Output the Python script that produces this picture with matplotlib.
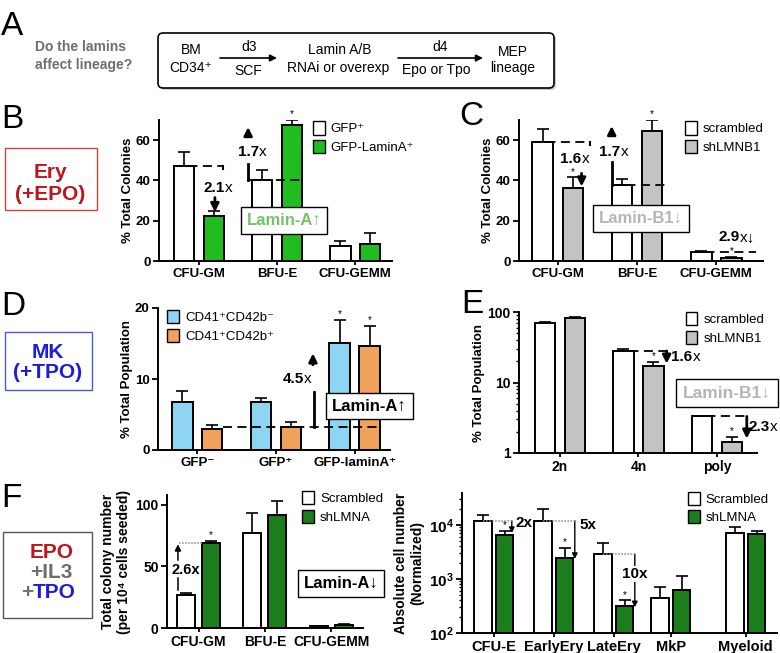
##############################################################################
# 1. modules
##############################################################################
import matplotlib.pyplot as plt
import numpy as np
from matplotlib.patches import FancyBboxPatch, Patch, Rectangle
from matplotlib.ticker import NullFormatter


##############################################################################
# 2. settings / data
##############################################################################
plt.rcParams["font.family"] = ["Liberation Sans", "DejaVu Sans"]
plt.rcParams["mathtext.fontset"] = "custom"
plt.rcParams["mathtext.rm"] = "Liberation Sans"
plt.rcParams["mathtext.bf"] = "Liberation Sans:bold"

W, H = 780, 653

COLONY_CATS = ["CFU-GM", "BFU-E", "CFU-GEMM"]

# B: lamin-A overexpression, EPO
B_GFP = [47, 40, 7.5]
B_GFP_SD = [7, 5, 2.5]
B_LAMINA = [22.5, 67.5, 8.5]
B_LAMINA_SD = [2.5, 2.5, 5.5]

# C: lamin-B1 knockdown, EPO
C_SCR = [59, 37.5, 4.5]
C_SCR_SD = [6.5, 3, 0.4]
C_SHB1 = [36, 64.5, 1.5]
C_SHB1_SD = [5.5, 5.5, 0.5]

# D: MK, TPO
D_CATS = ["GFP\u207b", "GFP\u207a", "GFP-laminA\u207a"]
D_CD42NEG = [6.8, 6.8, 15.1]
D_CD42NEG_SD = [1.5, 0.5, 3.2]
D_CD42POS = [3.0, 3.3, 14.7]
D_CD42POS_SD = [0.5, 0.6, 2.8]

# E: ploidy
E_CATS = ["2n", "4n", "poly"]
E_SCR = [69, 28, 3.3]
E_SCR_SD = [3, 2, 0.05]
E_SHB1 = [82, 17, 1.43]
E_SHB1_SD = [3, 2.5, 0.25]

# F left: colonies
F_COL_SCR = [27, 77, 1.5]
F_COL_SCR_SD = [1.5, 16, 0.3]
F_COL_SHA = [69, 92, 2.8]
F_COL_SHA_SD = [1.5, 11.5, 0.3]

# F right: cell numbers
F_CELL_CATS = ["CFU-E", "EarlyEry", "LateEry", "MkP", "Myeloid"]
F_CELL_SCR = [12000, 12000, 2900, 450, 7000]
F_CELL_SCR_SD = [3000, 8000, 1700, 260, 2000]
F_CELL_SHA = [6500, 2400, 320, 620, 6800]
F_CELL_SHA_SD = [1300, 1300, 80, 530, 1000]

GREEN_B = "#1fbd1f"
GREEN_F = "#1b7d1b"
GRAY = "#c3c3c3"
BLUE_D = "#8dd5f2"
ORANGE_D = "#f0a25c"
LAMA_GREEN = "#74c365"
LAMB_GRAY = "#b5b5b5"
ERY_RED = "#c0141c"
MK_BLUE = "#1c1ce0"
TXT_GRAY = "#6e6e6e"


##############################################################################
# 3. helpers
##############################################################################
def rect(x0, y0, x1, y1):
    return [x0 / W, 1 - y1 / H, (x1 - x0) / W, (y1 - y0) / H]


def pair_bars(ax, pos, a, a_sd, b, b_sd, ca, cb, off=0.19, width=0.26):
    conts = []
    for x, v, sd, c in ((pos - off, a, a_sd, ca), (pos + off, b, b_sd, cb)):
        v = np.asarray(v, float)
        ax.errorbar(x, v, yerr=[np.zeros_like(v), sd], fmt="none", ecolor="black",
                    elinewidth=1.2, capsize=4.5, capthick=1.2, zorder=1)
        conts.append(ax.bar(x, v, width, color=c, edgecolor="black",
                            linewidth=1.4, zorder=2))
    return conts


def stars(ax, x, v, sd, idx):
    for i in idx:
        ax.annotate("*", (x[i], v[i] + sd[i]), xytext=(0, 0.5),
                    textcoords="offset points", ha="center", va="bottom",
                    fontsize=7)


def style(ax, xpos, xlabels, yticks, ylabels, size=9.5, ysize=9.5):
    ax.set_facecolor("none")
    ax.spines[["top", "right"]].set_visible(False)
    ax.spines[["left", "bottom"]].set_linewidth(1.4)
    ax.set_xticks(xpos, xlabels, fontsize=size, fontweight="bold")
    ax.set_yticks(yticks, ylabels, fontsize=ysize, fontweight="bold")
    ax.tick_params(width=1.3, length=4, pad=2)
    ax.tick_params(axis="x", length=3)


def legend(ax, conts, labels, x, y):
    handles = [Patch(facecolor=c.patches[0].get_facecolor(), edgecolor="black",
                     linewidth=1.0) for c in conts]
    ax.legend(handles, labels, loc="upper left", bbox_to_anchor=(x, y),
              frameon=False, fontsize=9.5, handlelength=0.9, handleheight=1.15,
              handletextpad=0.45, labelspacing=0.35, borderaxespad=0,
              borderpad=0)


def arrow(ax, x, y0, y1, lw=2.0, ms=12):
    ax.annotate("", xy=(x, y1), xytext=(x, y0),
                arrowprops=dict(arrowstyle="-|>", color="black", lw=lw,
                                mutation_scale=ms, shrinkA=0, shrinkB=0),
                annotation_clip=False)


def hline(ax, x0, x1, y, ls=(0, (5, 3)), color="black", lw=1.3):
    ax.plot([x0, x1], [y, y], ls=ls, color=color, lw=lw, zorder=5,
            clip_on=False)


def vline(ax, x, y0, y1, lw=2.0):
    ax.plot([x, x], [y0, y1], color="black", lw=lw, zorder=5, clip_on=False)


def fold(ax, x, y, num, tail="x", size=11):
    ax.text(x, y, num, ha="right", va="center", fontsize=size,
            fontweight="bold", zorder=6)
    ax.text(x, y, tail, ha="left", va="center", fontsize=size, zorder=6)


def tag(ax, x, y, text, color, size=12, pad=0.35):
    ax.text(x, y, text, ha="center", va="center", fontsize=size,
            fontweight="bold", color=color, zorder=7,
            bbox=dict(boxstyle=f"square,pad={pad}", fc="white", ec="black",
                      lw=1.0))


##############################################################################
# 4. panels
##############################################################################
def panel_overlay(fig):
    ax = fig.add_axes([0, 0, 1, 1])
    ax.set_xlim(0, W)
    ax.set_ylim(H, 0)
    ax.axis("off")

    for x, y, s in ((1, 35, "A"), (1, 128, "B"), (459, 125, "C"),
                    (1, 315, "D"), (461, 313, "E"), (1, 507, "F")):
        ax.text(x, y, s, fontsize=24, va="baseline", ha="left")

    # A
    ax.text(35, 47, "Do the lamins", fontsize=10, fontweight="bold",
            color=TXT_GRAY, va="center")
    ax.text(35, 65, "affect lineage?", fontsize=10, fontweight="bold",
            color=TXT_GRAY, va="center")
    ax.add_patch(FancyBboxPatch((160, 35), 396, 55,
                                boxstyle="round,pad=0,rounding_size=5",
                                fc="#c8c8c8", ec="none", lw=0))
    ax.add_patch(FancyBboxPatch((158, 33), 396, 55,
                                boxstyle="round,pad=0,rounding_size=5",
                                fc="white", ec="black", lw=1.2))
    kw = dict(fontsize=10, ha="center", va="center")
    ax.text(191, 50, "BM", **kw)
    ax.text(191, 68, "CD34\u207a", **kw)
    ax.text(249, 47, "d3", **kw)
    ax.text(248, 71, "SCF", **kw)
    ax.text(340, 50, "Lamin A/B", **kw)
    ax.text(338, 68, "RNAi or overexp", **kw)
    ax.text(440, 47, "d4", **kw)
    ax.text(436, 70, "Epo or Tpo", **kw)
    ax.text(513, 52, "MEP", **kw)
    ax.text(513, 68, "lineage", **kw)
    for x0, x1 in ((220, 277), (398, 483)):
        ax.annotate("", xy=(x1, 58), xytext=(x0, 58),
                    arrowprops=dict(arrowstyle="-|>", color="black", lw=1.2,
                                    mutation_scale=10, shrinkA=0, shrinkB=0))

    # condition boxes
    ax.add_patch(Rectangle((5, 148), 92, 62, fill=False, ec="#c8453c", lw=1.0))
    ax.text(50, 172, "Ery", fontsize=15, fontweight="bold", color=ERY_RED,
            ha="center", va="center")
    ax.text(50, 194, "(+EPO)", fontsize=15, fontweight="bold", color=ERY_RED,
            ha="center", va="center")

    ax.add_patch(Rectangle((5, 332), 87, 58, fill=False, ec="#4a5ad8", lw=1.0))
    ax.text(48, 352, "MK", fontsize=15, fontweight="bold", color=MK_BLUE,
            ha="center", va="center")
    ax.text(48, 372, "(+TPO)", fontsize=15, fontweight="bold", color=MK_BLUE,
            ha="center", va="center")

    ax.add_patch(Rectangle((3, 532), 89, 86, fill=False, ec="#555555", lw=1.0))
    ax.text(52, 552, "EPO", fontsize=15, fontweight="bold", color=ERY_RED,
            ha="center", va="center")
    ax.text(51, 572, "+IL3", fontsize=15, fontweight="bold", color=TXT_GRAY,
            ha="center", va="center")
    ax.text(33, 592, "+", fontsize=15, fontweight="bold", color=TXT_GRAY,
            ha="right", va="center")
    ax.text(33, 592, "TPO", fontsize=15, fontweight="bold", color=MK_BLUE,
            ha="left", va="center")


def panel_b(fig):
    ax = fig.add_axes(rect(159, 120, 392, 261))
    pos = np.arange(len(COLONY_CATS))
    conts = pair_bars(ax, pos, B_GFP, B_GFP_SD, B_LAMINA, B_LAMINA_SD,
                      "white", GREEN_B)
    ax.set_xlim(-0.51, 2.47)
    ax.set_ylim(0, 70)
    style(ax, pos, COLONY_CATS, [0, 20, 40, 60], ["0", "20", "40", "60"])
    ax.set_ylabel("% Total Colonies", fontsize=9.5, fontweight="bold",
                  labelpad=1.5)
    stars(ax, pos + 0.19, B_LAMINA, B_LAMINA_SD, [0, 1])
    legend(ax, conts, ["GFP\u207a", "GFP-LaminA\u207a"], 0.66, 0.99)

    hline(ax, pos[0] - 0.32, pos[0] + 0.31, B_GFP[0])
    vline(ax, pos[0] + 0.31, B_GFP[0], B_GFP[0] - 1.5, lw=1.5)
    fold(ax, 0.33, 36.3, "2.1")
    arrow(ax, 0.205, 31.5, 24.3)
    fold(ax, 0.77, 54, "1.7")
    arrow(ax, 0.63, 62.5, 66.5)
    vline(ax, 0.63, 48, B_GFP[1])
    hline(ax, 0.62, 1.33, B_GFP[1])
    tag(ax, 1.09, 20, "Lamin-A\u2191", LAMA_GREEN)


def panel_c(fig):
    ax = fig.add_axes(rect(519, 120, 763, 261))
    pos = np.arange(len(COLONY_CATS))
    conts = pair_bars(ax, pos, C_SCR, C_SCR_SD, C_SHB1, C_SHB1_SD,
                      "white", GRAY)
    ax.set_xlim(-0.49, 2.59)
    ax.set_ylim(0, 70)
    style(ax, pos, COLONY_CATS, [0, 20, 40, 60], ["0", "20", "40", "60"])
    ax.set_ylabel("% Total Colonies", fontsize=9.5, fontweight="bold",
                  labelpad=1.5)
    stars(ax, pos + 0.19, C_SHB1, C_SHB1_SD, [0, 1, 2])
    legend(ax, conts, ["scrambled", "shLMNB1"], 0.68, 0.99)

    hline(ax, pos[0] - 0.32, pos[0] + 0.4, C_SCR[0])
    vline(ax, pos[0] + 0.4, C_SCR[0], C_SCR[0] - 1.2, lw=1.5)
    fold(ax, 0.30, 50.5, "1.6")
    arrow(ax, 0.30, 43.5, 37)
    fold(ax, 0.79, 54, "1.7")
    arrow(ax, 0.68, 62.5, 67)
    vline(ax, 0.68, 49, C_SCR[1])
    hline(ax, 0.68, 1.39, C_SCR[1])
    tag(ax, 1.05, 21, "Lamin-B1\u2193", LAMB_GRAY)
    hline(ax, pos[2] - 0.32, 2.5, C_SCR[2])
    fold(ax, 2.3, 12, "2.9", "x\u2193")


def panel_d(fig):
    ax = fig.add_axes(rect(158, 308, 390, 450))
    pos = np.arange(len(D_CATS))
    conts = pair_bars(ax, pos, D_CD42NEG, D_CD42NEG_SD, D_CD42POS,
                      D_CD42POS_SD, BLUE_D, ORANGE_D)
    ax.set_xlim(-0.5, 2.45)
    ax.set_ylim(0, 20)
    style(ax, pos, D_CATS, [0, 10, 20], ["0", "10", "20"])
    ax.set_ylabel("% Total Population", fontsize=9.5, fontweight="bold",
                  labelpad=1.5)
    stars(ax, pos - 0.19, D_CD42NEG, D_CD42NEG_SD, [2])
    stars(ax, pos + 0.19, D_CD42POS, D_CD42POS_SD, [2])
    legend(ax, conts, ["CD41\u207aCD42b\u207b", "CD41\u207aCD42b\u207a"],
           0.04, 0.985)

    hline(ax, 0.33, 2.32, 3.2)
    arrow(ax, 1.47, 12.0, 13.6)
    fold(ax, 1.36, 10, "4.5")
    vline(ax, 1.48, 8.2, 3.2)
    tag(ax, 2.19, 6.2, "Lamin-A\u2191", "black")


def panel_e(fig):
    ax = fig.add_axes(rect(519, 312, 757, 453))
    ax.set_yscale("log")
    pos = np.arange(len(E_CATS))
    conts = pair_bars(ax, pos, E_SCR, E_SCR_SD, E_SHB1, E_SHB1_SD,
                      "white", GRAY)
    ax.set_xlim(-0.52, 2.51)
    ax.set_ylim(1, 100)
    style(ax, pos, E_CATS, [1, 10, 100], ["1", "10", "100"], size=10, ysize=10)
    ax.yaxis.set_minor_formatter(NullFormatter())
    ax.tick_params(axis="y", which="minor", length=2.5, width=1.0)
    ax.set_ylabel("% Total Population", fontsize=9.5, fontweight="bold",
                  labelpad=1.5)
    stars(ax, pos + 0.19, E_SHB1, E_SHB1_SD, [1, 2])
    legend(ax, conts, ["scrambled", "shLMNB1"], 0.70, 1.0)

    hline(ax, pos[1] - 0.3, 1.44, E_SCR[1])
    arrow(ax, 1.36, E_SCR[1], 18.5)
    fold(ax, 1.69, 23, "1.6")
    tag(ax, 2.13, 7.1, "Lamin-B1\u2193", LAMB_GRAY, size=12.5, pad=0.4)
    hline(ax, pos[2] - 0.32, 2.38, E_SCR[2])
    arrow(ax, 2.38, E_SCR[2], 1.6)
    fold(ax, 2.67, 2.34, "2.3")


def panel_f_left(fig):
    ax = fig.add_axes(rect(167, 495, 363, 628))
    pos = np.arange(len(COLONY_CATS))
    conts = pair_bars(ax, pos, F_COL_SCR, F_COL_SCR_SD, F_COL_SHA, F_COL_SHA_SD,
                      "white", GREEN_F, width=0.27)
    ax.set_xlim(-0.475, 2.48)
    ax.set_ylim(0, 108)
    style(ax, pos, COLONY_CATS, [0, 50, 100], ["0", "50", "100"], size=10,
          ysize=10)
    ax.set_ylabel("Total colony number\n(per 10\u2074 cells seeded)",
                  fontsize=10, fontweight="bold", labelpad=3)
    stars(ax, pos + 0.19, F_COL_SHA, F_COL_SHA_SD, [0])
    legend(ax, conts, ["Scrambled", "shLMNA"], 0.69, 1.03)

    hline(ax, pos[0] - 0.3, pos[0] + 0.06, F_COL_SHA[0], ls=(0, (1, 1)),
          color="#8a8a8a", lw=1.1)
    arrow(ax, -0.31, 55, 68, lw=1.1, ms=9)
    ax.text(-0.19, 47, "2.6x", ha="center", va="center", fontsize=10.5,
            fontweight="bold")
    vline(ax, -0.31, 40.5, 31, lw=1.1)
    tag(ax, 2.15, 36, "Lamin-A\u2193", "black")


def panel_f_right(fig):
    ax = fig.add_axes(rect(462, 493, 777, 633))
    ax.set_yscale("log")
    pos = np.array([0, 1, 2, 2.95, 4.2])
    conts = pair_bars(ax, pos, F_CELL_SCR, F_CELL_SCR_SD, F_CELL_SHA,
                      F_CELL_SHA_SD, "white", GREEN_F, off=0.18, width=0.29)
    ax.set_xlim(-0.53, 4.72)
    ax.set_ylim(100, 39000)
    style(ax, pos, F_CELL_CATS, [1e2, 1e3, 1e4],
          [r"$\mathbf{10^{2}}$", r"$\mathbf{10^{3}}$", r"$\mathbf{10^{4}}$"],
          size=10.5, ysize=11)
    ax.yaxis.set_minor_formatter(NullFormatter())
    ax.tick_params(axis="y", which="minor", length=2.5, width=1.0)
    ax.set_ylabel("Absolute cell number\n(Normalized)", fontsize=10,
                  fontweight="bold", labelpad=3)
    stars(ax, pos + 0.18, F_CELL_SHA, F_CELL_SHA_SD, [0, 1, 2])
    legend(ax, conts, ["Scrambled", "shLMNA"], 0.717, 1.01)

    dot = dict(ls=(0, (1, 1)), color="#8a8a8a", lw=1.1)
    hline(ax, pos[0] - 0.18, 0.3, F_CELL_SCR[0], **dot)
    arrow(ax, 0.3, F_CELL_SCR[0], 7100, lw=1.0, ms=8)
    ax.text(0.36, 11000, "2x", ha="left", va="center", fontsize=11,
            fontweight="bold")
    hline(ax, pos[1] - 0.18, 1.35, F_CELL_SCR[1], **dot)
    arrow(ax, 1.35, F_CELL_SCR[1], 2350, lw=1.0, ms=8)
    ax.text(1.43, 10000, "5x", ha="left", va="center", fontsize=11,
            fontweight="bold")
    hline(ax, pos[2] - 0.18, 2.35, F_CELL_SCR[2], **dot)
    arrow(ax, 2.35, F_CELL_SCR[2], 300, lw=1.0, ms=8)
    ax.text(2.35, 1230, "10x", ha="center", va="center", fontsize=11,
            fontweight="bold", bbox=dict(fc="white", ec="none", pad=0.5))


##############################################################################
# 5. main
##############################################################################
def main():
    fig = plt.figure(figsize=(W / 100, H / 100), dpi=100)
    panel_overlay(fig)
    panel_b(fig)
    panel_c(fig)
    panel_d(fig)
    panel_e(fig)
    panel_f_left(fig)
    panel_f_right(fig)
    fig.savefig("out.png", dpi=100, facecolor="white")


if __name__ == "__main__":
    main()
